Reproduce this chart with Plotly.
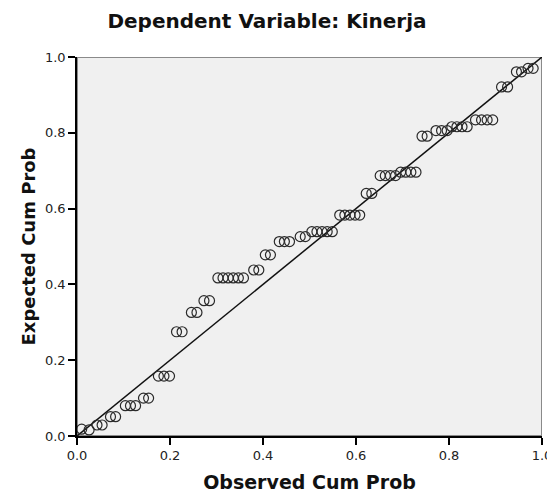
import plotly.graph_objects as go

# Observed cumulative probability (x) and expected cumulative probability (y)
observed = [
    0.010, 0.026,
    0.043, 0.054,
    0.072, 0.083,
    0.104, 0.115, 0.126,
    0.143, 0.154,
    0.175, 0.187, 0.199,
    0.214, 0.226,
    0.246, 0.258,
    0.273, 0.285,
    0.303, 0.314, 0.325, 0.336, 0.347, 0.358,
    0.380, 0.391,
    0.405, 0.416,
    0.435, 0.446, 0.457,
    0.480, 0.491,
    0.505, 0.516, 0.527, 0.538, 0.549,
    0.565, 0.576, 0.587, 0.598, 0.608,
    0.622, 0.634,
    0.652, 0.663, 0.674, 0.685,
    0.696, 0.707, 0.718, 0.729,
    0.742, 0.753,
    0.772, 0.784, 0.796,
    0.806, 0.817, 0.828, 0.839,
    0.857, 0.870, 0.882, 0.894,
    0.913, 0.926,
    0.945, 0.956,
    0.970, 0.981,
]
expected = [
    0.018, 0.016,
    0.029, 0.029,
    0.051, 0.051,
    0.080, 0.080, 0.080,
    0.100, 0.100,
    0.158, 0.158, 0.158,
    0.275, 0.275,
    0.326, 0.326,
    0.357, 0.357,
    0.417, 0.417, 0.417, 0.417, 0.417, 0.417,
    0.438, 0.438,
    0.478, 0.478,
    0.513, 0.513, 0.513,
    0.526, 0.526,
    0.539, 0.539, 0.539, 0.539, 0.539,
    0.583, 0.583, 0.583, 0.583, 0.583,
    0.640, 0.640,
    0.687, 0.687, 0.687, 0.687,
    0.696, 0.696, 0.696, 0.696,
    0.791, 0.791,
    0.806, 0.806, 0.806,
    0.816, 0.816, 0.816, 0.816,
    0.834, 0.834, 0.834, 0.834,
    0.921, 0.921,
    0.961, 0.961,
    0.970, 0.970,
]
ref_line_x = [0.0, 1.0]
ref_line_y = [0.0, 1.0]
tick_vals = [0.0, 0.2, 0.4, 0.6, 0.8, 1.0]
tick_text = ["0.0", "0.2", "0.4", "0.6", "0.8", "1.0"]

title_text = "Dependent Variable: Kinerja"
x_title = "Observed Cum Prob"
y_title = "Expected Cum Prob"

fig = go.Figure()
fig.add_trace(go.Scatter(
    x=ref_line_x, y=ref_line_y, mode="lines",
    line=dict(color="#111111", width=1.5),
    hoverinfo="skip", showlegend=False,
))
fig.add_trace(go.Scatter(
    x=observed, y=expected, mode="markers",
    marker=dict(symbol="circle-open", size=10, color="#2a2a2a",
                line=dict(width=1.2, color="#2a2a2a")),
    showlegend=False,
))

fig.add_shape(type="rect", xref="x", yref="y", x0=0, y0=0, x1=1, y1=1,
              line=dict(color="#8a8a8a", width=2), layer="below")

axis_common = dict(
    range=[0, 1], tickvals=tick_vals, ticktext=tick_text,
    showgrid=False, zeroline=False, showline=True,
    linecolor="#000000", linewidth=1.5,
    ticks="outside", ticklen=7, tickwidth=1.5, tickcolor="#000000",
    tickfont=dict(family="DejaVu Sans", size=13, color="#222222"),
    automargin=False, ticklabeloverflow="allow",
)

# the page body adds an 8px offset, so the figure is 8px smaller than the window
fig.update_layout(
    width=547, height=485,
    margin=dict(l=69, r=13, t=49, b=57),
    paper_bgcolor="#ffffff",
    plot_bgcolor="#f0f0f0",
    title=dict(text=title_text, x=0.4735, xanchor="center", y=0.973, yanchor="middle",
               font=dict(family="DejaVu Sans", size=20, color="#111111", weight="bold")),
    xaxis=dict(**axis_common,
               title=dict(text=x_title, standoff=16,
                          font=dict(family="DejaVu Sans", size=19, color="#111111", weight="bold"))),
    yaxis=dict(**axis_common,
               title=dict(text=y_title, standoff=5,
                          font=dict(family="DejaVu Sans", size=18, color="#111111", weight="bold"))),
)

fig.write_html("out.html")
